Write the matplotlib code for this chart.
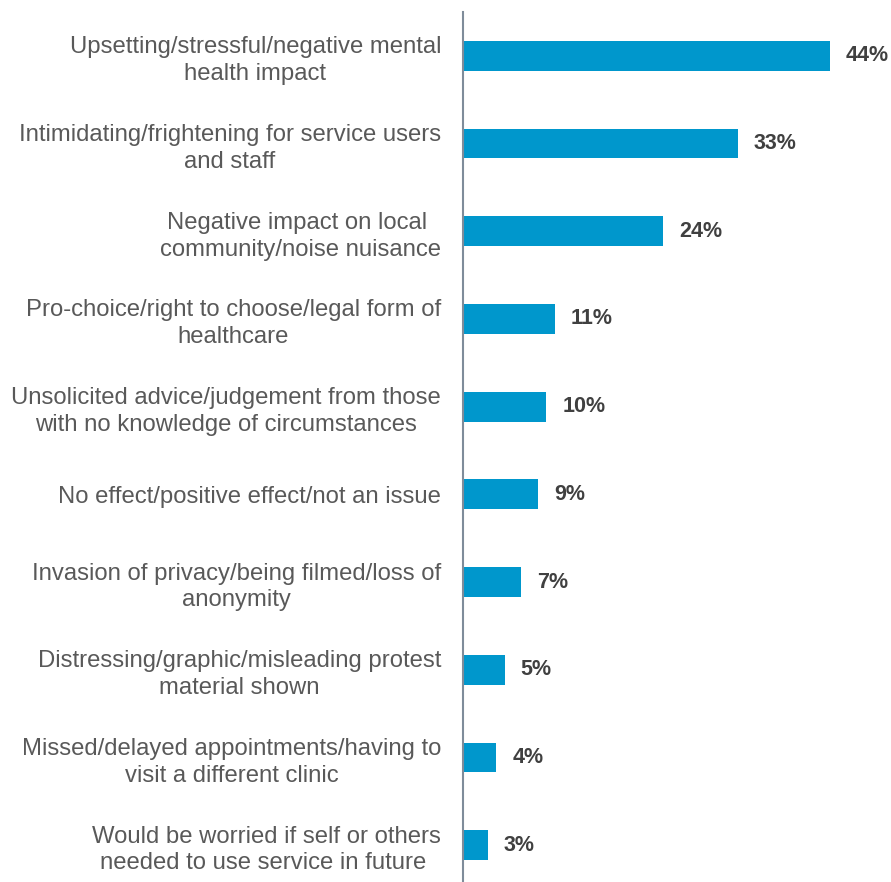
import matplotlib
matplotlib.use("Agg")
import matplotlib.pyplot as plt

categories = [
    "Upsetting/stressful/negative mental\nhealth impact",
    "Intimidating/frightening for service users\nand staff",
    "Negative impact on local \ncommunity/noise nuisance",
    "Pro-choice/right to choose/legal form of\nhealthcare",
    "Unsolicited advice/judgement from those\nwith no knowledge of circumstances",
    "No effect/positive effect/not an issue",
    "Invasion of privacy/being filmed/loss of\nanonymity",
    "Distressing/graphic/misleading protest\nmaterial shown",
    "Missed/delayed appointments/having to\nvisit a different clinic",
    "Would be worried if self or others\nneeded to use service in future ",
]
values = [44, 33, 24, 11, 10, 9, 7, 5, 4, 3]
value_labels = ["44%", "33%", "24%", "11%", "10%", "9%", "7%", "5%", "4%", "3%"]

plt.rcParams['font.family'] = ['Liberation Sans', 'DejaVu Sans']

fig = plt.figure(figsize=(8.91, 8.82), dpi=100)
ax = fig.add_axes([463/891, 0.0, 1 - 463/891 - 0.005, 1 - 12/882])

ypos = list(range(len(categories)))
ax.barh(ypos, values, height=0.34, color="#0097CC", edgecolor="none")
ax.set_xlim(0, 50.8)
ax.set_ylim(9.42, -0.5)

for y, v, lab in zip(ypos, values, value_labels):
    ax.text(v + 1.9, y, lab, va="center", ha="left", fontsize=15.5, fontweight="bold", color="#404040")

ax.set_yticks(ypos)
ax.set_yticklabels(categories, fontsize=17.2, color="#595959", multialignment="center", linespacing=1.28)
ax.tick_params(axis="y", length=0, pad=15.8)
ax.set_xticks([])
for s in ["top", "right", "bottom"]:
    ax.spines[s].set_visible(False)
ax.spines["left"].set_color("#7F8C9A")
ax.spines["left"].set_linewidth(1.5)

fig.savefig("out.png", dpi=100)
